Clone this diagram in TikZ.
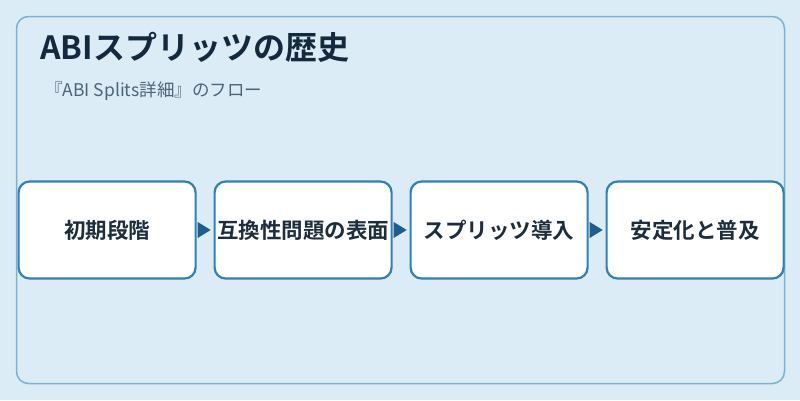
\documentclass[tikz,border=0pt]{standalone}
\usepackage{fontspec}
\setmainfont{Noto Sans CJK JP}
\newfontfamily\jpbold{Noto Sans CJK JP Bold}
\usetikzlibrary{arrows.meta}
\definecolor{bgc}{RGB}{220,236,247}
\definecolor{framec}{RGB}{122,176,212}
\definecolor{boxc}{RGB}{46,128,185}
\definecolor{arrc}{RGB}{30,93,140}
\definecolor{titlec}{RGB}{19,41,61}
\definecolor{subc}{RGB}{74,100,120}
\definecolor{textc}{RGB}{28,46,62}
\tikzset{
  stepbox/.style={draw=boxc, line width=2.2pt, fill=white, rounded corners=11pt,
    minimum width=177pt, minimum height=97pt, inner sep=0pt, anchor=west,
    font=\jpbold\fontsize{21.5}{24}\selectfont, text=textc}
}
\begin{document}
\begin{tikzpicture}[x=1pt,y=-1pt]
\fill[bgc] (0,0) rectangle (800,400);
\useasboundingbox (0,0) rectangle (800,400);
\draw[framec, line width=1.5pt, rounded corners=12pt] (16.5,16.5) rectangle (784.5,383.5);
\node[anchor=base west, inner sep=0pt, text=titlec, font=\jpbold\fontsize{32}{36}\selectfont] (title) at (40,59) {ABIスプリッツの歴史};
\node[anchor=base west, inner sep=0pt, text=subc, font=\fontsize{17.5}{20}\selectfont] (sub) at (45,96) {『ABI Splits詳細』のフロー};
\node[stepbox] (b1) at (17.5,230) {初期段階};
\node[stepbox] (b2) at (213.5,230) {互換性問題の表面};
\node[stepbox] (b3) at (409.5,230) {スプリッツ導入};
\node[stepbox] (b4) at (605.5,230) {安定化と普及};
\foreach \a/\b in {b1/b2,b2/b3,b3/b4}{
  \fill[arrc] ([xshift=1pt]\a.east) ++(0,-8) -- ++(13,8) -- ++(-13,8) -- cycle;
}
\end{tikzpicture}
\end{document}
